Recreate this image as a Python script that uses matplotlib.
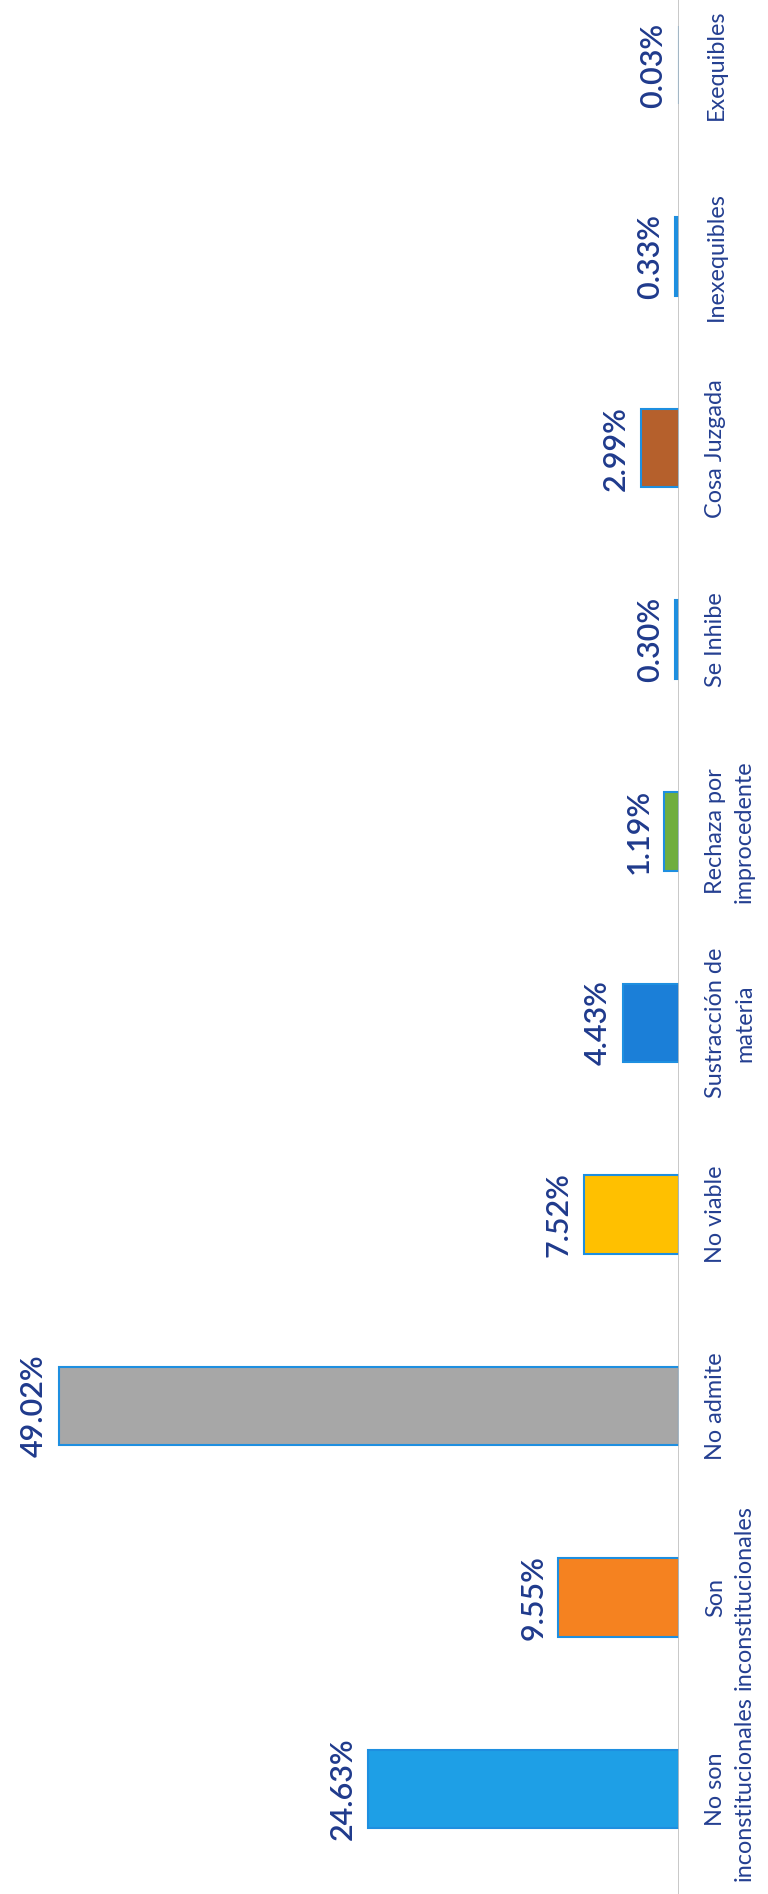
import matplotlib.pyplot as plt

categorias = ["No son\ninconstitucionales", "Son\ninconstitucionales", "No admite",
              "No viable", "Sustracción de\nmateria", "Rechaza por\nimprocedente",
              "Se Inhibe", "Cosa Juzgada", "Inexequibles", "Exequibles"]
porcentajes = [24.63, 9.55, 49.02, 7.52, 4.43, 1.19, 0.30, 2.99, 0.33, 0.03]
etiquetas = ["24.63%", "9.55%", "49.02%", "7.52%", "4.43%", "1.19%",
             "0.30%", "2.99%", "0.33%", "0.03%"]
colores = ["#1E9FE6", "#F58220", "#A7A7A7", "#FFC000", "#1B7FD8", "#6FAE3F",
           "#1E8FDF", "#B5602C", "#1E8FDF", "#1E8FDF"]

azul_texto = "#1F3A8C"

fig = plt.figure(figsize=(7.68, 18.94), dpi=100)
ax = fig.add_axes([0, 0, 679 / 768, 1])

pos = list(range(len(categorias)))
ax.barh(pos, porcentajes, height=0.41, color=colores, edgecolor="#1E8FE0", linewidth=1.5)

ax.set_xlim(53.7, 0)
ax.set_ylim(-0.548, 9.34)
ax.axvline(0, color="#BFBFBF", linewidth=1.2)

for i, v in enumerate(porcentajes):
    ax.annotate(etiquetas[i], (v, i), xytext=(-8, 0), textcoords="offset points",
                rotation=90, ha="right", va="center", fontsize=22,
                fontweight="semibold", color=azul_texto, family=["Lato", "DejaVu Sans"])
    ax.annotate(categorias[i], (0, i), xytext=(19, 0), textcoords="offset points",
                rotation=90, ha="left", va="center", multialignment="center",
                fontsize=16.8, color="#243F91", family=["Lato", "DejaVu Sans"],
                annotation_clip=False, linespacing=1.45)

ax.axis("off")
fig.savefig("out.png", dpi=100)
